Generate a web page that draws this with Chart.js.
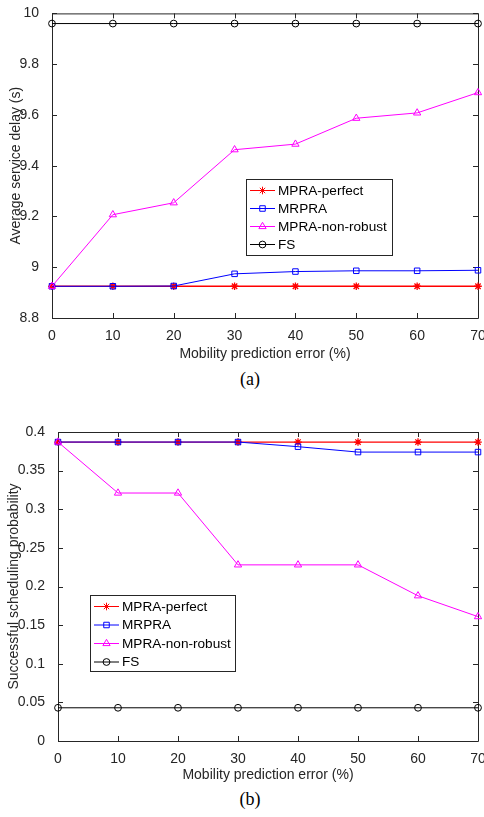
<!DOCTYPE html>
<html>
<head>
<meta charset="utf-8">
<script src="https://cdn.jsdelivr.net/npm/chart.js@4.4.0/dist/chart.umd.min.js"></script>
<style>
  html, body { margin: 0; padding: 0; background: #fff; width: 484px; height: 817px; overflow: hidden; }
  .box { position: absolute; left: 0; }
  .cap { position: absolute; left: 0; width: 500px; text-align: center; font-family: "Liberation Serif", serif; font-size: 18px; color: #000; }
</style>
</head>
<body>
<div class="box" style="top:0"><canvas id="delay" width="500" height="366"></canvas></div>
<div class="cap" style="top:369px">(a)</div>
<div class="box" style="top:395px"><canvas id="prob" width="500" height="392"></canvas></div>
<div class="cap" style="top:789px">(b)</div>
<script>
// x axis: mobility prediction error (%)
const errors = [0, 10, 20, 30, 40, 50, 60, 70];
const seriesNames = ['MPRA-perfect', 'MRPRA', 'MPRA-non-robust', 'FS'];

// (a) average service delay (s)
const delayPerfect   = [8.925, 8.925, 8.925, 8.925, 8.925, 8.925, 8.925, 8.925];
const delayMRPRA     = [8.925, 8.925, 8.926, 8.974, 8.983, 8.986, 8.986, 8.988];
const delayNonRobust = [8.925, 9.207, 9.254, 9.463, 9.485, 9.587, 9.608, 9.688];
const delayFS        = [9.96, 9.96, 9.96, 9.96, 9.96, 9.96, 9.96, 9.96];

// (b) successful scheduling probability
const probPerfect   = [0.387, 0.387, 0.387, 0.387, 0.387, 0.387, 0.387, 0.387];
const probMRPRA     = [0.387, 0.387, 0.387, 0.387, 0.381, 0.374, 0.374, 0.374];
const probNonRobust = [0.387, 0.321, 0.321, 0.228, 0.228, 0.228, 0.188, 0.161];
const probFS        = [0.043, 0.043, 0.043, 0.043, 0.043, 0.043, 0.043, 0.043];

const axisColor = '#262626';
const font = 'Liberation Sans, Arial, sans-serif';

const styles = [
  { color: '#ff0000', point: 'star', r: 3.8 },
  { color: '#0000ff', point: 'rect', r: 3.9 },
  { color: '#ff00ff', point: 'triangle', r: 4.2 },
  { color: '#000000', point: 'circle', r: 3.4 }
];

// box around the plot with inward ticks on all four sides
const framePlugin = {
  id: 'frame',
  beforeDatasetsDraw(chart) {
    const { ctx, chartArea: a, scales } = chart;
    ctx.save();
    ctx.strokeStyle = axisColor;
    ctx.lineWidth = 1;
    ctx.beginPath();
    ctx.rect(a.left + 0.5, a.top + 0.5, a.right - a.left, a.bottom - a.top);
    scales.x.ticks.forEach(t => {
      const px = Math.round(scales.x.getPixelForValue(t.value)) + 0.5;
      ctx.moveTo(px, a.bottom); ctx.lineTo(px, a.bottom - 5);
      ctx.moveTo(px, a.top); ctx.lineTo(px, a.top + 5);
    });
    scales.y.ticks.forEach(t => {
      const py = Math.round(scales.y.getPixelForValue(t.value)) + 0.5;
      ctx.moveTo(a.left, py); ctx.lineTo(a.left + 5, py);
      ctx.moveTo(a.right, py); ctx.lineTo(a.right - 5, py);
    });
    ctx.stroke();
    ctx.restore();
  }
};

// matlab style legend box
const legendPlugin = {
  id: 'boxLegend',
  afterDatasetsDraw(chart, args, opts) {
    const { ctx } = chart;
    ctx.save();
    ctx.fillStyle = '#fff';
    ctx.fillRect(opts.x, opts.y, opts.w, opts.h);
    ctx.strokeStyle = axisColor;
    ctx.lineWidth = 1;
    ctx.strokeRect(opts.x + 0.5, opts.y + 0.5, opts.w, opts.h);
    ctx.font = '13.6px ' + font;
    ctx.textBaseline = 'middle';
    chart.data.datasets.forEach((ds, i) => {
      const cy = opts.y + opts.first + i * opts.row;
      const x0 = opts.x + 4, x1 = x0 + 25;
      ctx.strokeStyle = ds.borderColor;
      ctx.beginPath();
      ctx.moveTo(x0, cy + 0.5); ctx.lineTo(x1, cy + 0.5);
      ctx.stroke();
      ctx.fillStyle = 'rgba(0,0,0,0)';
      Chart.helpers.drawPoint(ctx, { pointStyle: ds.pointStyle, radius: ds.pointRadius, rotation: 0, borderWidth: 1 }, (x0 + x1) / 2, cy + 0.5);
      ctx.fillStyle = '#000';
      ctx.fillText(ds.label, x1 + 3, cy + 1);
    });
    ctx.restore();
  }
};

const fmt = v => String(Number(v.toFixed(3)));

function makeChart(id, series, y, pad, legend) {
  const datasets = series.map((vals, i) => ({
    label: seriesNames[i],
    data: errors.map((e, k) => ({ x: e, y: vals[k] })),
    borderColor: styles[i].color,
    backgroundColor: 'rgba(0,0,0,0)',
    borderWidth: i === 0 ? 1.3 : 1,
    pointStyle: styles[i].point,
    pointRadius: styles[i].r,
    pointBorderWidth: i === 0 ? 1.3 : 1,
    pointBorderColor: styles[i].color,
    pointBackgroundColor: 'rgba(0,0,0,0)',
    tension: 0,
    clip: false,
    order: 4 - i
  }));
  return new Chart(document.getElementById(id), {
    type: 'line',
    data: { datasets },
    options: {
      responsive: false,
      animation: false,
      layout: { padding: { top: pad.top, right: 22, left: 0, bottom: 0 } },
      scales: {
        x: {
          type: 'linear', min: 0, max: 70,
          grid: { display: false }, border: { display: false },
          ticks: { stepSize: 10, color: axisColor, padding: 2, maxRotation: 0, font: { family: font, size: 14 } },
          title: { display: true, text: 'Mobility prediction error (%)', color: axisColor, padding: { top: 4, bottom: 3 }, font: { family: font, size: 14 } },
          afterFit(s) { s.height = pad.xh; }
        },
        y: {
          min: y.min, max: y.max,
          grid: { display: false }, border: { display: false },
          ticks: { stepSize: y.step, color: axisColor, padding: 5, font: { family: font, size: 14 }, callback: fmt },
          title: { display: true, text: y.title, color: axisColor, padding: { top: pad.tp, bottom: 0 }, font: { family: font, size: 14 } },
          afterFit(s) { s.width = pad.yw; }
        }
      },
      plugins: {
        legend: { display: false },
        tooltip: { enabled: false },
        boxLegend: legend
      }
    },
    plugins: [framePlugin, legendPlugin]
  });
}

makeChart('delay', [delayPerfect, delayMRPRA, delayNonRobust, delayFS],
  { min: 8.8, max: 10, step: 0.2, title: 'Average service delay (s)' },
  { top: 10, xh: 48, yw: 52, tp: 8 },
  { x: 246, y: 179, w: 146, h: 76, first: 11, row: 18 });

makeChart('prob', [probPerfect, probMRPRA, probNonRobust, probFS],
  { min: 0, max: 0.4, step: 0.05, title: 'Successful scheduling probability' },
  { top: 37, xh: 46, yw: 58, tp: 6 },
  { x: 90, y: 200, w: 145, h: 76, first: 11, row: 18.5 });
</script>
</body>
</html>
